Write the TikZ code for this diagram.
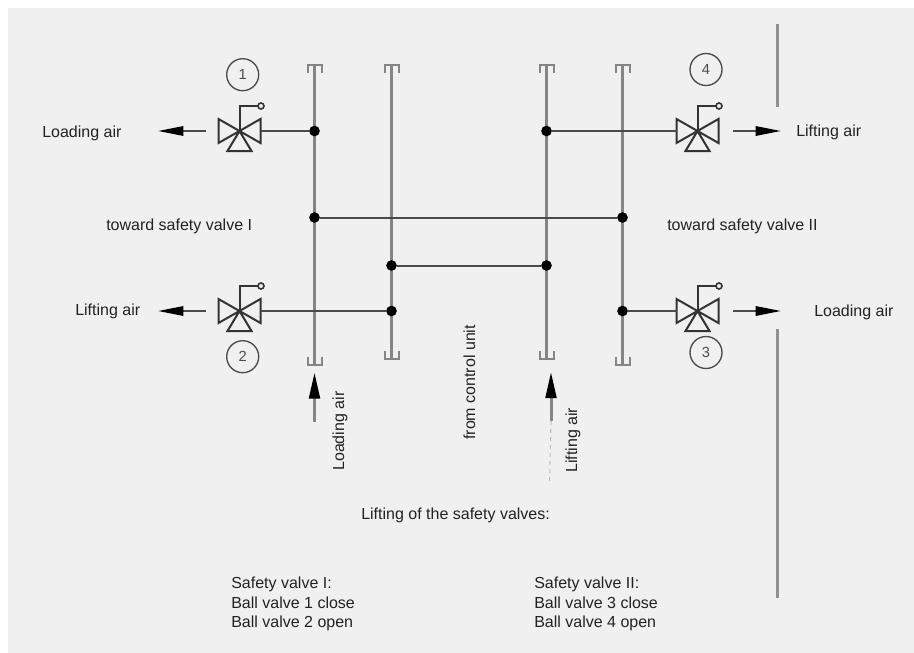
\documentclass[tikz,border=0pt]{standalone}
\usepackage{fontspec}
\setmainfont{Liberation Sans}
\usetikzlibrary{arrows.meta,calc}
\definecolor{panel}{HTML}{F0F0F0}
\definecolor{pipegray}{HTML}{858585}
\definecolor{linedark}{HTML}{4A4A4A}
\definecolor{valvedark}{HTML}{333333}
\definecolor{inkc}{HTML}{222222}
\tikzset{
  x=0.75pt,y=-0.75pt,
  pipe/.style={draw=pipegray,line width=2.25pt},
  capline/.style={draw=pipegray,line width=1.5pt,line join=miter},
  feed/.style={draw=linedark,line width=1.5pt},
  bar/.style={draw=pipegray!90!white,line width=2.25pt},
  dot/.style={circle,fill=black,inner sep=0pt,minimum size=8pt},
  numring/.style={circle,draw=linedark,line width=1pt,inner sep=0pt,minimum size=24pt,font=\fontsize{11}{13}\selectfont,text=linedark},
  lbl/.style={inner sep=0pt,anchor=west,text=inkc,font=\fontsize{12}{14}\selectfont},
  vlbl/.style={lbl,anchor=base west,rotate=90},
  block/.style={inner sep=0pt,anchor=north west,align=left,text=inkc,font=\fontsize{12}{14.6}\selectfont},
  flow/.style={draw=linedark,line width=1.5pt,-{Stealth[length=19pt,width=7pt,inset=0pt,color=black]}},
  flowup/.style={draw=pipegray,line width=2.25pt,-{Stealth[length=19.5pt,width=8pt,inset=0pt,color=black]}},
  valve/.pic={
    \coordinate (-c) at (0,0);
    \coordinate (-l) at (-21,0);
    \coordinate (-r) at (21,0);
    \draw[valvedark,line width=1.5pt,line join=miter]
      (0,0) -- (-21,-12) -- (-21,12) -- cycle
      (0,0) -- (21,-12) -- (21,12) -- cycle
      (0,0) -- (-12,20) -- (12,20) -- cycle;
    \draw[valvedark,line width=1.5pt] (0,0) -- (0,-25) -- (19,-25);
    \draw[valvedark,line width=1.2pt,fill=panel] (21.5,-25) circle[radius=3];
  }
}
% cap across a pipe end: #1 end point, #2 direction of the legs (+8 down, -8 up)
\newcommand{\pipecap}[2]{\draw[capline] ($(#1)+(-7,#2)$) -- ++(0,-#2) -- ++(14,0) -- ++(0,#2);}
\begin{document}
\begin{tikzpicture}
\useasboundingbox (0,0) rectangle (914,653);
\fill[white] (0,0) rectangle (914,653);
\fill[panel] (8,8) rectangle (914,653);

% gray bars
\coordinate (barAtop) at (777.5,24); \coordinate (barAbot) at (777.5,107);
\coordinate (barBtop) at (777.5,329); \coordinate (barBbot) at (777.5,598);
\draw[bar] (barAtop) -- (barAbot);
\draw[bar] (barBtop) -- (barBbot);

% pipe ends
\coordinate (p1t) at (314.5,65); \coordinate (p1b) at (314.5,365);
\coordinate (p2t) at (391.5,65); \coordinate (p2b) at (391.5,359);
\coordinate (p3t) at (546.5,65); \coordinate (p3b) at (546.5,359);
\coordinate (p4t) at (622.5,65); \coordinate (p4b) at (622.5,365);
\draw[pipe] (p1t) -- (p1b);
\draw[pipe] (p2t) -- (p2b);
\draw[pipe] (p3t) -- (p3b);
\draw[pipe] (p4t) -- (p4b);
\pipecap{p1t}{8}
\pipecap{p2t}{8}
\pipecap{p3t}{8}
\pipecap{p4t}{8}
\pipecap{p1b}{-8}
\pipecap{p2b}{-8}
\pipecap{p3b}{-8}
\pipecap{p4b}{-8}

% valves
\pic (v1) at (239.5,131) {valve};
\pic (v4) at (697.5,131) {valve};
\pic (v2) at (239.5,311) {valve};
\pic (v3) at (697.5,311) {valve};

% junctions
\node[dot] (j1) at (314.5,131) {};
\node[dot] (j4) at (546.5,131) {};
\node[dot] (jA) at (314.5,217.5) {};
\node[dot] (jB) at (622.5,217.5) {};
\node[dot] (jC) at (391.5,265.5) {};
\node[dot] (jD) at (546.5,265.5) {};
\node[dot] (j2) at (391.5,311) {};
\node[dot] (j3) at (622.5,311) {};

\draw[feed] (v1-r) -- (j1);
\draw[feed] (j4) -- (v4-l);
\draw[feed] (jA) -- (jB);
\draw[feed] (jC) -- (jD);
\draw[feed] (v2-r) -- (j2);
\draw[feed] (j3) -- (v3-l);

% numbers
\node[numring] (n1) at (242.7,74.7) {1};
\node[numring] (n4) at (706,69.5) {4};
\node[numring] (n2) at (242.7,356.7) {2};
\node[numring] (n3) at (706,352.5) {3};

% flow arrows
\coordinate (a1s) at (206,131); \coordinate (a1e) at (158,131);
\coordinate (a2s) at (206,311); \coordinate (a2e) at (158,311);
\coordinate (a4s) at (733,131); \coordinate (a4e) at (781,131);
\coordinate (a3s) at (733,311); \coordinate (a3e) at (781,311);
\draw[flow] (a1s) -- (a1e);
\draw[flow] (a2s) -- (a2e);
\draw[flow] (a4s) -- (a4e);
\draw[flow] (a3s) -- (a3e);
\coordinate (u1s) at (314.5,422); \coordinate (u1e) at (314.5,372.5);
\coordinate (u2s) at (551,421); \coordinate (u2e) at (551,372);
\draw[flowup] (u1s) -- (u1e);
\draw[flowup] (u2s) -- (u2e);
\coordinate (u2t) at (549.5,483);
\draw[draw=black!25,dashed,line width=0.8pt] (u2s) -- (u2t);

% labels
\node[lbl] (tLoadL) at (42,133.5) {Loading air};
\node[lbl] (tLiftR) at (796,132.5) {Lifting air};
\node[lbl] (tTowardA) at (106,226) {toward safety valve I};
\node[lbl] (tTowardB) at (667,226) {toward safety valve II};
\node[lbl] (tLiftL) at (75,311.5) {Lifting air};
\node[lbl] (tLoadR) at (814,312) {Loading air};
\node[vlbl] (tLoadV) at (344,471) {Loading air};
\node[vlbl] (tCtrl) at (475,440) {from control unit};
\node[vlbl] (tLiftV) at (577,473) {Lifting air};
\node[lbl] (tHead) at (361,515.5) {Lifting of the safety valves:};
\node[block] (tI) at (231,577) {Safety valve I:\\Ball valve 1 close\\Ball valve 2 open};
\node[block] (tII) at (534,577) {Safety valve II:\\Ball valve 3 close\\Ball valve 4 open};
\end{tikzpicture}
\end{document}
